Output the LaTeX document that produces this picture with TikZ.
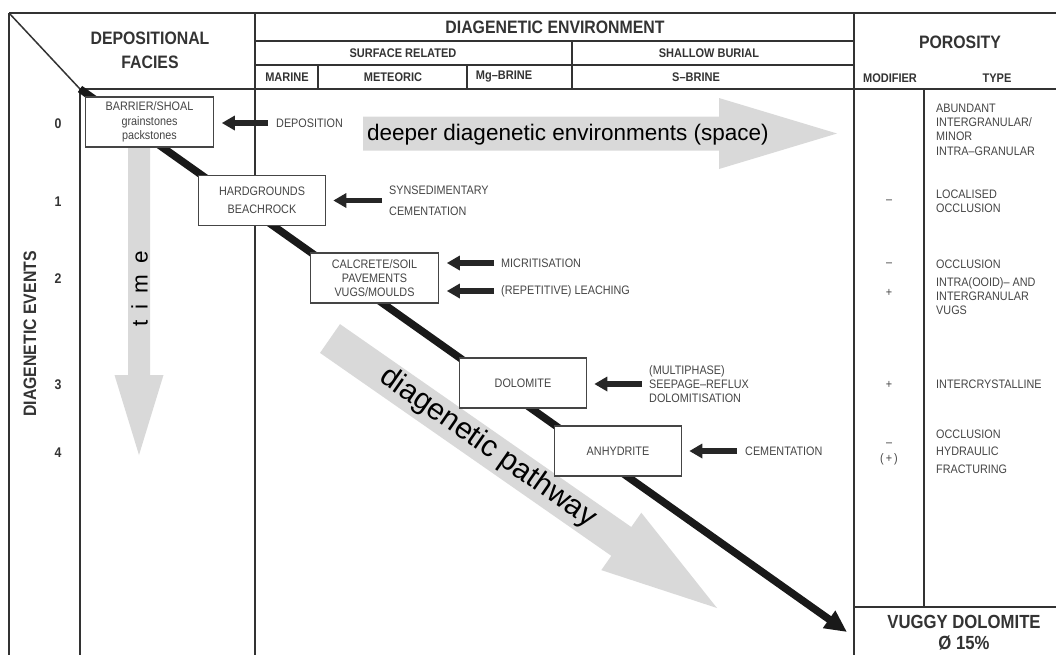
\documentclass[tikz,border=0pt]{standalone}
\usepackage{fontspec}
\setmainfont{Liberation Sans}
\newfontfamily\tabfont[FakeStretch=0.88]{Liberation Sans}
\usetikzlibrary{arrows.meta}
\definecolor{ink}{HTML}{333333}
\definecolor{boxink}{HTML}{454545}
\definecolor{shade}{HTML}{D9D9D9}
\tikzset{
  rule/.style={draw=ink, line width=1.5pt},
  headbig/.style={font=\tabfont\bfseries\fontsize{18}{24}\selectfont, text=ink, inner sep=0pt, align=center},
  headsmall/.style={font=\tabfont\bfseries\fontsize{12.5}{14}\selectfont, text=ink, inner sep=0pt},
  eventno/.style={font=\tabfont\bfseries\fontsize{14}{16}\selectfont, text=ink, inner sep=0pt},
  note/.style={font=\tabfont\fontsize{12.3}{14.3}\selectfont, text=boxink, inner sep=0pt, align=left, anchor=west},
  facies/.style={draw=boxink, line width=1.1pt, fill=white, minimum width=127.5pt, minimum height=50pt,
    inner sep=0pt, align=center, font=\tabfont\fontsize{12.3}{14.5}\selectfont, text=boxink},
  push/.style={draw=black!85, line width=5.5pt, -{Triangle[length=13pt,width=14pt]}},
  pathline/.style={draw=black!90, line width=7.5pt, -{Triangle[length=22pt,width=20pt]}},
  bigarrow/.style={fill=shade, draw=none},
  bigtext/.style={font=\fontsize{22.5}{26}\selectfont, text=black, inner sep=0pt},
}
\begin{document}
\begin{tikzpicture}[x=1pt, y=-1pt]
\path[use as bounding box] (0,0) rectangle (1056,654);

% ---- table rules ----
\draw[rule] (9,13) -- (1060,13);
\draw[rule] (9,13) -- (9,660);
\draw[rule] (9,13) -- (80,89);
\draw[rule] (80,89) -- (80,660);
\draw[rule] (255,13) -- (255,660);
\draw[rule] (854,13) -- (854,660);
\draw[rule] (255,41) -- (854,41);
\draw[rule] (255,65) -- (854,65);
\draw[rule] (80,89) -- (1060,89);
\draw[rule] (318,65) -- (318,89);
\draw[rule] (467,65) -- (467,89);
\draw[rule] (572,41) -- (572,89);
\draw[rule] (924,89) -- (924,607);
\draw[rule] (854,607) -- (1060,607);

% ---- header texts ----
\node[headbig] (hfacies) at (150,50) {DEPOSITIONAL\\FACIES};
\node[headbig] (henv) at (555,27) {DIAGENETIC ENVIRONMENT};
\node[headbig] (hpor) at (960,42) {POROSITY};
\node[headsmall] (hsurf) at (403,53) {SURFACE RELATED};
\node[headsmall] (hburial) at (709,53) {SHALLOW BURIAL};
\node[headsmall] (hmarine) at (287,77) {MARINE};
\node[headsmall] (hmeteoric) at (393,77) {METEORIC};
\node[headsmall] (hmg) at (504,77) {Mg–BRINE};
\node[headsmall] (hs) at (696,77) {S–BRINE};
\node[headsmall] (hmod) at (890,78) {MODIFIER};
\node[headsmall] (htype) at (997,78) {TYPE};

% ---- event axis ----
\node[headbig, rotate=90] (events) at (30,334) {DIAGENETIC EVENTS};
\node[eventno] (e0) at (58,124) {0};
\node[eventno] (e1) at (58,202) {1};
\node[eventno] (e2) at (58,279) {2};
\node[eventno] (e3) at (58,385) {3};
\node[eventno] (e4) at (58,453) {4};

% ---- light grey trend arrows ----
\fill[bigarrow] (363,116.5) -- (719,116.5) -- (719,98) -- (837,133.5)
  -- (719,169) -- (719,150.5) -- (363,150.5) -- cycle;
\node[bigtext, anchor=base west] (space) at (367,140) {deeper diagenetic environments (space)};

\fill[bigarrow] (128,148) -- (150,148) -- (150,375) -- (163.5,375) -- (139,455)
  -- (114.5,375) -- (128,375) -- cycle;
\node[bigtext, rotate=90] (time) at (139.5,288.5) {t\hspace{11pt}i\hspace{11pt}m\hspace{11pt}e};

\fill[bigarrow] (340.0,324.1) -- (631.3,527.0) -- (641.3,512.7) -- (717,608)
  -- (601.3,570.1) -- (611.3,555.8) -- (320.0,352.9) -- cycle;
\node[bigtext, font=\fontsize{30}{34}\selectfont, rotate=-34.85] (pathway) at (488,448) {diagenetic pathway};

% ---- diagenetic pathway ----
\coordinate (start) at (80,89);
\coordinate (finish) at (847,632);
\draw[pathline] (start) -- (finish);

% ---- facies boxes ----
\node[facies] (b0) at (149.5,122) {BARRIER/SHOAL\\grainstones\\packstones};
\node[facies, font=\tabfont\fontsize{12.3}{18}\selectfont] (b1) at (262,200.5) {HARDGROUNDS\\BEACHROCK};
\node[facies, font=\tabfont\fontsize{12.3}{14}\selectfont] (b2) at (374.5,278) {CALCRETE/SOIL\\PAVEMENTS\\VUGS/MOULDS};
\node[facies] (b3) at (523,383) {DOLOMITE};
\node[facies] (b4) at (618,451) {ANHYDRITE};

% ---- processes ----
\node[note] (dep) at (276,123) {DEPOSITION};
\node[note, font=\tabfont\fontsize{12.3}{21}\selectfont] (syn) at (389,200.5) {SYNSEDIMENTARY\\CEMENTATION};
\node[note] (mic) at (501,263) {MICRITISATION};
\node[note] (lea) at (501,291) {(REPETITIVE) LEACHING};
\node[note, font=\tabfont\fontsize{12.3}{14}\selectfont] (dol) at (649,384) {(MULTIPHASE)\\SEEPAGE–REFLUX\\DOLOMITISATION};
\node[note] (cem) at (745,451) {CEMENTATION};

\draw[push] ([xshift=-8pt]dep.west) -- ([xshift=8pt]b0.east |- dep.west);
\draw[push] ([xshift=-7pt]syn.west) -- ([xshift=7pt]b1.east |- syn.west);
\draw[push] ([xshift=-7pt]mic.west) -- ([xshift=8pt]b2.east |- mic.west);
\draw[push] ([xshift=-7pt]lea.west) -- ([xshift=8pt]b2.east |- lea.west);
\draw[push] ([xshift=-7pt]dol.west) -- ([xshift=7pt]b3.east |- dol.west);
\draw[push] ([xshift=-8pt]cem.west) -- ([xshift=7pt]b4.east |- cem.west);

% ---- porosity modifiers ----
\node[note, anchor=center] (m1) at (889,202) {–};
\node[note, anchor=center] (m2a) at (889,265) {–};
\node[note, anchor=center] (m2b) at (889,293) {+};
\node[note, anchor=center] (m3) at (889,385) {+};
\node[note, anchor=center] (m4a) at (889,445) {–};
\node[note, anchor=center] (m4b) at (889,459) {(\,+\,)};

% ---- porosity types ----
\node[note] (t0) at (936,129.5) {ABUNDANT\\INTERGRANULAR/\\MINOR\\INTRA–GRANULAR};
\node[note] (t1) at (936,201) {LOCALISED\\OCCLUSION};
\node[note] (t2a) at (936,264) {OCCLUSION};
\node[note] (t2b) at (936,296) {INTRA(OOID)– AND\\INTERGRANULAR\\VUGS};
\node[note] (t3) at (936,384) {INTERCRYSTALLINE};
\node[note, font=\tabfont\fontsize{12.3}{17.5}\selectfont] (t4) at (936,451.5) {OCCLUSION\\HYDRAULIC\\FRACTURING};

% ---- result ----
\node[headbig, font=\tabfont\bfseries\fontsize{19}{21}\selectfont] (result) at (964,633) {VUGGY DOLOMITE\\Ø 15\%};
\end{tikzpicture}
\end{document}
